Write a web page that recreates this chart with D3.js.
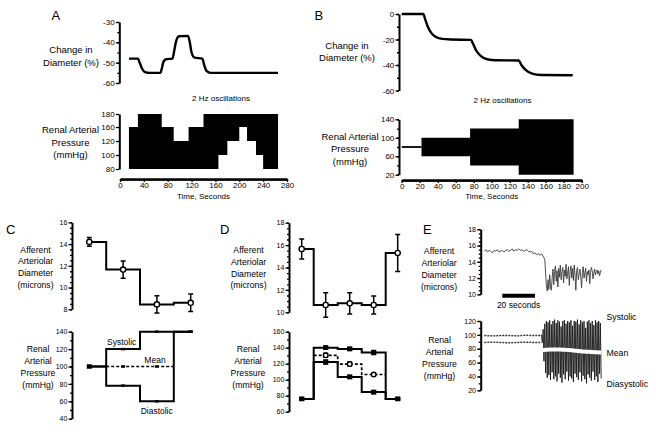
<!DOCTYPE html>
<html><head><meta charset="utf-8">
<script src="https://cdn.jsdelivr.net/npm/d3@7"></script>
<style>
body{margin:0;background:#fff}
svg{display:block;font-family:"Liberation Sans",Arial,Helvetica,sans-serif}
</style></head><body>
<svg id="c" width="656" height="441"></svg>
<script>
// ================= DATA =================
// Panel A
const aDiamTime = [15,30,33,37,42,50,68,70,73,77,88,91,94,99,114,117,120,125,138,141,145,152,265];
const aDiamVal  = [-48,-48,-50,-53,-54.6,-55,-55,-53,-49.5,-48.3,-48,-44,-39.5,-37,-36.8,-40,-45,-47.5,-48,-51,-54,-55,-55];
const aPresTime = [15,30,70,90,115,140,165,180,200,213,228,240,265];
const aPresHigh = [160,180,160,120,160,180,180,180,180,180,180,180,180];
const aPresLow  = [80,80,80,80,80,80,100,120,160,120,100,80,80];
const aDiamTicks = [-60,-50,-40,-30];
const aPresTicks = [80,100,120,160,180];
const aTimeTicks = [0,40,80,120,160,200,240,280];
// Panel B
const bDiamTime = [0,24,26,29,33,38,45,55,77,79,83,88,95,105,130,133,138,145,155,190];
const bDiamVal  = [0,0,-4,-10,-15,-18,-19.5,-20,-20.3,-23,-29,-33,-35.5,-36.3,-36.5,-40,-44,-46.8,-47.8,-48];
const bPresTime = [0,22,76,130,191];
const bPresHigh = [80,100,120,140,140];
const bPresLow  = [80,60,40,20,20];
const bDiamTicks = [-60,-40,-20,0];
const bPresTicks = [20,60,100,140];
const bTimeTicks = [0,20,40,60,80,100,120,140,160,180,200];
// Panel C
const cIdx = [1,2,3,4];
const cDiam = [14.2,11.65,8.45,8.6];
const cDiamErr = [0.4,0.8,0.8,0.8];
const cSys = [100,120,140,140];
const cDia = [100,78,60,140];
const cMean = [null,100,100,null];
const cDiamTicks = [8,10,12,14,16];
const cPresTicks = [40,60,80,100,120,140];
// Panel D
const dIdx = [1,2,3,4,5];
const dDiam = [15.65,10.65,10.8,10.65,15.3];
const dDiamErr = [0.9,1.1,0.95,0.8,1.65];
const dSys = [76,140,138.5,134,76];
const dSysErr = [1.2,2,2,2.5,1.2];
const dDia = [76,122,103.5,84.5,76];
const dDiaErr = [1.2,2.5,2,2,1.2];
const dMean = [null,130.5,119.5,106.5,null];
const dMeanErr = [null,2.5,2.5,1.5,null];
const dDiamTicks = [10,12,14,16,18];
const dPresTicks = [60,80,100,120,140,160];
// Panel E
const eDiamBase = [15.3,15.5,15.2,15.4,15.3,15.1,15.4,15.3,15.5,15.2,15.3,15.4,15.2,15.4,15.5,15.3,15.4,15.6,15.3,15.5,15.4,15.6,15.4,15.5,15.3,15.4,15.5,15.3,15.2,15.3,15.0,15.1,14.9,15.0,14.8,15.0,14.7]; // 1 s samples from t=0
const eDiamOsc = [14.3,12.6,11.0,10.4,11.8,10.6,12.4,11.0,10.5,12.0,
  13.1,11.2,12.8,13.5,11.6,12.9,10.9,13.2,12.1,13.6,
  11.8,12.7,13.3,11.4,13.0,12.2,13.7,11.9,12.6,13.4,
  11.1,12.8,13.5,12.0,13.2,11.7,13.6,12.4,10.5,12.9,
  13.3,11.8,12.5,13.1,12.2,10.8,12.7,13.4,12.0,12.6,
  13.2,11.6,12.8,12.4,13.0,11.3,12.7,13.3,12.9,11.9,
  12.6,13.1,12.4,12.8,13.0,12.5,12.9,12.3,12.7,13.0]; // 0.5 s samples from t=37
const ePreTime = [0,5,10,15,20,25,30,34];
const ePreSys = [99,98.5,99,99,98.5,99.5,99,99];
const ePreDia = [89,89.5,89,88.5,89,89.5,89,89];
const eSys = [100,108,116,120,118,121,115,120,122,117,121,119,112,120,121,116,120,118,121,113,120,119,122,115,121,118,120,110,119,121,117,120,114,121,118,120,117]; // 1 s cycles from t=35
const eDia = [89,62,45,38,42,35,46,36,40,33,44,38,31,43,36,47,34,40,37,32,44,39,35,46,33,41,36,30,43,38,34,47,35,40,32,44,37];
const eMeanTime = [35.8,40,44,48,52,56,60,64,68,71.5];
const eMean = [78,79,79,78.5,78,77,76,75.5,75,74.5];
const eDiamTicks = [10,12,14,16,18];
const ePresTicks = [20,40,60,80,100,120];
const eScaleBar = [11,31]; // 20 seconds

// ================= DRAWING =================
const svg = d3.select("#c");
const FONT = '"Liberation Sans",Arial,Helvetica,sans-serif';
const range = (a,b,s)=>d3.range(a,b+s/2,s);

function styleAxis(g, fs){
  g.selectAll(".domain").attr("stroke","#000").attr("stroke-width",2);
  g.selectAll(".tick line").attr("stroke","#000").attr("stroke-width",1.3);
  g.selectAll("text").attr("font-size",fs).attr("fill","#000").attr("font-family",FONT);
}
function yAxis(x, scale, majors, minors, fs){
  const g = svg.append("g").attr("transform",`translate(${x},0)`);
  if(minors){
    g.append("g").call(d3.axisLeft(scale).tickValues(minors).tickSize(2).tickFormat(""))
     .call(a=>a.select(".domain").remove());
  }
  g.append("g").call(d3.axisLeft(scale).tickValues(majors).tickSize(3.5).tickSizeOuter(0).tickPadding(1.2).tickFormat(d=>String(d)));
  styleAxis(g, fs);
  return g;
}
function xAxis(y, scale, majors, minors, fs){
  const g = svg.append("g").attr("transform",`translate(0,${y})`);
  g.append("g").call(d3.axisBottom(scale).tickValues(minors).tickSize(2).tickFormat(""))
   .call(a=>a.select(".domain").remove());
  g.append("g").call(d3.axisBottom(scale).tickValues(majors).tickSize(3).tickSizeOuter(0).tickPadding(0.5).tickFormat(d=>String(d)));
  styleAxis(g, fs);
  g.selectAll(".domain").attr("stroke-width",2.5);
  return g;
}
function title(lines, x, y0, dy, fs, anchor){
  lines.forEach((t,i)=>svg.append("text").attr("x",x).attr("y",y0+i*dy)
    .attr("text-anchor",anchor||"middle").attr("font-size",fs).attr("fill","#000").text(t));
}
function letter(t,x,y){ svg.append("text").attr("x",x).attr("y",y).attr("font-size",13).attr("fill","#000").text(t); }

// ---------- Panel A ----------
const xA = d3.scaleLinear().domain([0,280]).range([120,287]);
const yAd = d3.scaleLinear().domain([-60,-30]).range([83,22]);
const yAp = d3.scaleLinear().domain([80,100,120,160,180]).range([169,155,141,127,114]);
letter("A",51.5,20);
title(["Change in","Diameter (%)"],71,52.5,13,9.5);
title(["2 Hz oscillations"],221,101,0,8);
title(["Renal Arterial","Pressure","(mmHg)"],70.5,133,12.5,9.5);
yAxis(119.3, yAd, aDiamTicks, range(-60,-30,5), 8);
yAxis(119.3, yAp, aPresTicks, null, 8);
xAxis(179, xA, aTimeTicks, range(0,280,4), 8);
title(["Time, Seconds"],203.5,198.5,0,8);
svg.append("path")
  .attr("d", d3.area().x(d=>xA(d[0])).y0(d=>yAp(d[2])).y1(d=>yAp(d[1])).curve(d3.curveStepAfter)(aPresTime.map((t,i)=>[t,aPresHigh[i],aPresLow[i]])))
  .attr("fill","#000");
svg.append("path")
  .attr("d", d3.line().x(d=>xA(d[0])).y(d=>yAd(d[1])).curve(d3.curveMonotoneX)(aDiamTime.map((t,i)=>[t,aDiamVal[i]])))
  .attr("fill","none").attr("stroke","#000").attr("stroke-width",2.4);

// ---------- Panel B ----------
const xB = d3.scaleLinear().domain([0,200]).range([401.7,581.7]);
const yBd = d3.scaleLinear().domain([-60,0]).range([90.5,14]);
const yBp = d3.scaleLinear().domain([20,140]).range([174.7,119.3]);
letter("B",314.5,20);
title(["Change in","Diameter (%)"],347,49,12,9.5);
title(["2 Hz oscillations"],502.5,102.5,0,8);
title(["Renal Arterial","Pressure","(mmHg)"],350,140,12.3,9.5);
yAxis(399, yBd, bDiamTicks, range(-60,0,10), 8);
yAxis(399, yBp, bPresTicks, range(20,140,20), 8);
xAxis(180, xB, bTimeTicks, range(0,200,2), 8);
title(["Time, Seconds"],491.7,199,0,8);
svg.append("path")
  .attr("d", d3.area().x(d=>xB(d[0])).y0(d=>yBp(d[2])).y1(d=>yBp(d[1])).curve(d3.curveStepAfter)(bPresTime.map((t,i)=>[t,bPresHigh[i],bPresLow[i]])))
  .attr("fill","#000");
svg.append("path")
  .attr("d", d3.line().x(d=>xB(d[0])).y(d=>yBp(d[1]))([[bPresTime[0],bPresHigh[0]],[bPresTime[1],bPresHigh[0]]]))
  .attr("stroke","#000").attr("stroke-width",1.8);
svg.append("path")
  .attr("d", d3.line().x(d=>xB(d[0])).y(d=>yBd(d[1])).curve(d3.curveMonotoneX)(bDiamTime.map((t,i)=>[t,bDiamVal[i]])))
  .attr("fill","none").attr("stroke","#000").attr("stroke-width",2.4);

// ---------- helpers for C / D ----------
function stepPath(xs, ys, idx, vals, extend){
  let pts = [];
  idx.forEach((i,k)=>{ if(vals[k]!=null) pts.push([i,vals[k]]); });
  if(extend){ pts = [[pts[0][0]-0.5,pts[0][1]], ...pts, [pts[pts.length-1][0]+0.5, pts[pts.length-1][1]]]; }
  return d3.line().x(d=>xs(d[0])).y(d=>ys(d[1])).curve(d3.curveStep)(pts);
}
function errBars(xs, ys, idx, vals, errs, cap){
  idx.forEach((i,k)=>{
    if(vals[k]==null || errs[k]==null) return;
    const x = xs(i), y1 = ys(vals[k]+errs[k]), y2 = ys(vals[k]-errs[k]);
    svg.append("path").attr("d",`M${x},${y1}V${y2}M${x-cap},${y1}H${x+cap}M${x-cap},${y2}H${x+cap}`)
      .attr("stroke","#000").attr("stroke-width",1.5).attr("fill","none");
  });
}
function circles(xs, ys, idx, vals, r){
  idx.forEach((i,k)=>{ if(vals[k]==null) return;
    svg.append("circle").attr("cx",xs(i)).attr("cy",ys(vals[k])).attr("r",r)
      .attr("fill","#fff").attr("stroke","#000").attr("stroke-width",1.4); });
}
function squares(xs, ys, idx, vals, w, h, from){
  idx.forEach((i,k)=>{ if(vals[k]==null || k<(from||0)) return;
    svg.append("rect").attr("x",xs(i)-w/2).attr("y",ys(vals[k])-h/2).attr("width",w).attr("height",h).attr("fill","#000"); });
}

// ---------- Panel C ----------
const xC = d3.scaleLinear().domain([1,4]).range([89.3,190.7]);
const yCd = d3.scaleLinear().domain([8,16]).range([309.3,222.3]);
const yCp = d3.scaleLinear().domain([40,140]).range([418.7,331.7]);
letter("C",6,234);
title(["Afferent","Arteriolar","Diameter","(microns)"],35.5,252.5,11.8,8.7);
title(["Renal","Arterial","Pressure","(mmHg)"],38,351.7,12.1,8.7);
yAxis(72, yCd, cDiamTicks, range(8,16,0.5), 7);
yAxis(72, yCp, cPresTicks, range(40,140,10), 7);
svg.append("path").attr("d",stepPath(xC,yCd,cIdx,cDiam)).attr("fill","none").attr("stroke","#000").attr("stroke-width",2);
errBars(xC,yCd,cIdx,cDiam,cDiamErr,2.5);
circles(xC,yCd,cIdx,cDiam,2.6);
svg.append("path").attr("d",stepPath(xC,yCp,cIdx,cSys)).attr("fill","none").attr("stroke","#000").attr("stroke-width",2);
svg.append("path").attr("d",stepPath(xC,yCp,cIdx,cDia)).attr("fill","none").attr("stroke","#000").attr("stroke-width",2);
svg.append("path").attr("d",stepPath(xC,yCp,cIdx,cMean,true)).attr("fill","none").attr("stroke","#000").attr("stroke-width",1.7).attr("stroke-dasharray","3,2");
squares(xC,yCp,cIdx,cSys,4,2.5,1);
squares(xC,yCp,cIdx,cDia,4,2.5,1);
squares(xC,yCp,cIdx,cMean,4,2.5,1);
squares(xC,yCp,[cIdx[0]],[cSys[0]],5,4.5,0);
title(["Systolic"],121.7,345,0,8.5);
title(["Mean"],155,362.5,0,8.5);
title(["Diastolic"],156.7,414,0,8.5);

// ---------- Panel D ----------
const xD = d3.scaleLinear().domain([1,5]).range([301.7,397.7]);
const yDd = d3.scaleLinear().domain([10,18]).range([312.3,222.7]);
const yDp = d3.scaleLinear().domain([60,160]).range([411.7,331.7]);
letter("D",220,234);
title(["Afferent","Arteriolar","Diameter","(microns)"],248.5,253,11.8,8.7);
title(["Renal","Arterial","Pressure","(mmHg)"],248,351.7,12.1,8.7);
yAxis(289, yDd, dDiamTicks, range(10,18,0.5), 7);
yAxis(289, yDp, dPresTicks, range(60,160,10), 7);
svg.append("path").attr("d",stepPath(xD,yDd,dIdx,dDiam)).attr("fill","none").attr("stroke","#000").attr("stroke-width",2);
errBars(xD,yDd,dIdx,dDiam,dDiamErr,2.5);
circles(xD,yDd,dIdx,dDiam,2.6);
svg.append("path").attr("d",stepPath(xD,yDp,dIdx,dSys)).attr("fill","none").attr("stroke","#000").attr("stroke-width",2);
svg.append("path").attr("d",stepPath(xD,yDp,dIdx,dDia)).attr("fill","none").attr("stroke","#000").attr("stroke-width",2);
svg.append("path").attr("d",stepPath(xD,yDp,dIdx,dMean,true)).attr("fill","none").attr("stroke","#000").attr("stroke-width",1.7).attr("stroke-dasharray","3,2");
errBars(xD,yDp,dIdx,dSys,dSysErr,2.5);
errBars(xD,yDp,dIdx,dDia,dDiaErr,2.5);
errBars(xD,yDp,dIdx,dMean,dMeanErr,2.5);
squares(xD,yDp,dIdx,dSys,5,4.5);
squares(xD,yDp,dIdx,dDia,5,4.5);
circles(xD,yDp,dIdx,dMean,2.3);

// ---------- Panel E ----------
const xE = d3.scaleLinear().domain([0,72]).range([484.3,602]);
const yEd = d3.scaleLinear().domain([10,18]).range([294.3,229.3]);
const yEp = d3.scaleLinear().domain([20,120]).range([390.3,321]);
letter("E",423,234);
title(["Afferent","Arteriolar","Diameter","(microns)"],439,254,12,8.7);
title(["Renal","Arterial","Pressure","(mmHg)"],439.5,342.5,12.3,8.7);
yAxis(480.7, yEd, eDiamTicks, range(10,18,0.5), 7);
yAxis(480.7, yEp, ePresTicks, range(20,120,10), 7);
const eDiamPts = eDiamBase.map((v,i)=>[i,v]).concat(eDiamOsc.map((v,i)=>[37+i*0.5,v]));
svg.append("path").attr("d",d3.line().x(d=>xE(d[0])).y(d=>yEd(d[1]))(eDiamPts))
  .attr("fill","none").attr("stroke","#3a3a3a").attr("stroke-width",0.9);
svg.append("path").attr("d",d3.line().x(d=>xE(d[0])).y(d=>yEd(d[0])*0+295.8)(eScaleBar.map(t=>[t])))
  .attr("stroke","#000").attr("stroke-width",4);
title(["20 seconds"],xE((eScaleBar[0]+eScaleBar[1])/2),308,0,8.5);
// pressure before oscillation
svg.append("path").attr("d",d3.line().x(d=>xE(d[0])).y(d=>yEp(d[1]))(ePreTime.map((t,i)=>[t,ePreSys[i]]).concat([[35,eSys[0]]])))
  .attr("fill","none").attr("stroke","#333").attr("stroke-width",1.4).attr("stroke-dasharray","2,1");
svg.append("path").attr("d",d3.line().x(d=>xE(d[0])).y(d=>yEp(d[1]))(ePreTime.map((t,i)=>[t,ePreDia[i]]).concat([[35,eDia[0]]])))
  .attr("fill","none").attr("stroke","#333").attr("stroke-width",1.4).attr("stroke-dasharray","2,1");
// oscillating pressure
const eOscPts = [];
eSys.forEach((v,i)=>{ eOscPts.push([35+i,v]); eOscPts.push([35.5+i,eDia[i]]); });
svg.append("path").attr("d",d3.line().x(d=>xE(d[0])).y(d=>yEp(d[1]))(eOscPts))
  .attr("fill","none").attr("stroke","#1a1a1a").attr("stroke-width",0.9);
svg.append("path").attr("d",d3.line().x(d=>xE(d[0])).y(d=>yEp(d[1])).curve(d3.curveMonotoneX)(eMeanTime.map((t,i)=>[t,eMean[i]])))
  .attr("fill","none").attr("stroke","#fff").attr("stroke-width",4);
title(["Systolic"],606.5,320,0,8.7,"start");
title(["Mean"],606.5,355.5,0,8.7,"start");
title(["Diasystolic"],606.5,387,0,8.7,"start");
</script>
</body></html>
